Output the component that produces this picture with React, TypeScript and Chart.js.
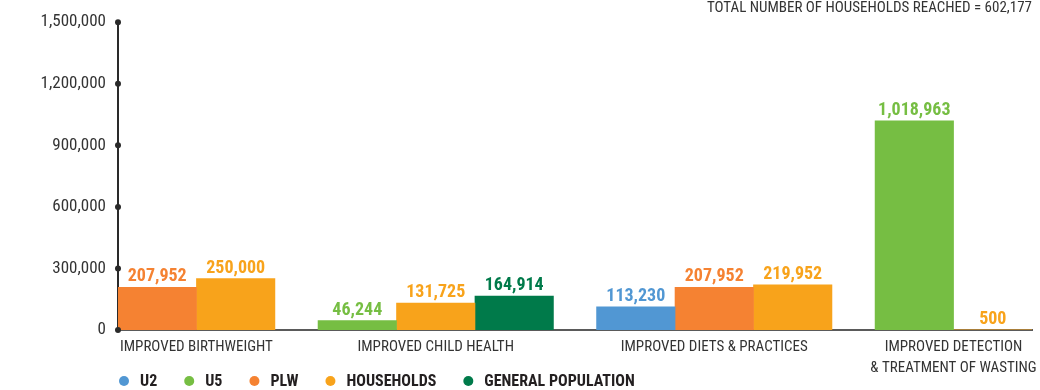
import React, { useEffect, useRef } from 'react';
import { Chart, registerables } from 'chart.js';

Chart.register(...registerables);

// ---- data ----
const categories: string[][] = [
  ['IMPROVED BIRTHWEIGHT'],
  ['IMPROVED CHILD HEALTH'],
  ['IMPROVED DIETS & PRACTICES'],
  ['IMPROVED DETECTION', '& TREATMENT OF WASTING'],
];
const seriesNames = ['U2', 'U5', 'PLW', 'HOUSEHOLDS', 'GENERAL POPULATION'];
const u2 = [null, null, 113230, null];
const u5 = [null, 46244, null, 1018963];
const plw = [207952, null, 207952, null];
const households = [250000, 131725, 219952, 500];
const generalPopulation = [null, 164914, null, null];
const yTicks = [0, 300000, 600000, 900000, 1200000, 1500000];
const totalHouseholds = 602177;

// ---- styles ----
const colors = ['#5197D3', '#76BE43', '#F58232', '#F8A31B', '#007A4A'];
const FONT = "'Roboto Condensed', 'Open Sans Condensed', 'Noto Sans', sans-serif";
const TEXT = '#333333';
const GROUP_GAP = 0.55; // gap between groups, in bar widths

const seriesValues: (number | null)[][] = [u2, u5, plw, households, generalPopulation];

// bars of a group sit side by side along a linear x scale, groups separated by a gap
const groupCenters: number[] = [];
const barX: (number | null)[][] = seriesValues.map(() => []);
let cursor = 0;
categories.forEach((_, ci) => {
  const start = cursor;
  seriesValues.forEach((vals, si) => {
    if (vals[ci] != null) {
      barX[si][ci] = cursor + 0.5;
      cursor += 1;
    } else {
      barX[si][ci] = null;
    }
  });
  groupCenters.push((start + cursor) / 2);
  cursor += GROUP_GAP;
});
const xMax = cursor - GROUP_GAP;

const fmt = (v: number) => v.toLocaleString('en-US');

const datasets = seriesValues.map((vals, si) => ({
  label: seriesNames[si],
  backgroundColor: colors[si],
  borderWidth: 0,
  data: vals
    .map((v, ci) => (v == null ? null : { x: barX[si][ci] as number, y: v }))
    .filter((p) => p !== null) as { x: number; y: number }[],
}));

const tickDots = {
  id: 'tickDots',
  afterDraw(chart: any) {
    const { ctx, chartArea, scales } = chart;
    ctx.save();
    ctx.fillStyle = '#2a2a2a';
    scales.y.ticks.forEach((t: any) => {
      const y = scales.y.getPixelForValue(t.value);
      ctx.beginPath();
      ctx.arc(chartArea.left, y, 3, 0, Math.PI * 2);
      ctx.fill();
    });
    ctx.restore();
  },
};

const valueLabels = {
  id: 'valueLabels',
  afterDatasetsDraw(chart: any) {
    const { ctx } = chart;
    ctx.save();
    ctx.font = `bold 18px ${FONT}`;
    ctx.textAlign = 'center';
    ctx.textBaseline = 'alphabetic';
    chart.data.datasets.forEach((ds: any, di: number) => {
      const meta = chart.getDatasetMeta(di);
      ctx.fillStyle = ds.backgroundColor;
      meta.data.forEach((el: any, i: number) => {
        const v = ds.data[i].y;
        ctx.fillText(fmt(v), el.x, el.y - 6);
      });
    });
    ctx.restore();
  },
};

const bottomLegend = {
  id: 'bottomLegend',
  afterDraw(chart: any) {
    const { ctx, chartArea } = chart;
    const y = chart.height - 9;
    let x = chartArea.left + 6;
    ctx.save();
    ctx.font = `bold 16px ${FONT}`;
    ctx.textBaseline = 'middle';
    ctx.textAlign = 'left';
    chart.data.datasets.forEach((ds: any) => {
      ctx.fillStyle = ds.backgroundColor;
      ctx.beginPath();
      ctx.arc(x, y, 5, 0, Math.PI * 2);
      ctx.fill();
      ctx.fillStyle = '#231F20';
      ctx.fillText(ds.label, x + 16, y + 1);
      x += 16 + ctx.measureText(ds.label).width + 32;
    });
    ctx.restore();
  },
};

export default function App() {
  const ref = useRef<HTMLCanvasElement>(null);
  useEffect(() => {
    document.body.style.margin = '0';
    const chart = new Chart(ref.current as HTMLCanvasElement, {
      type: 'bar',
      data: { datasets: datasets as any },
      plugins: [tickDots, valueLabels, bottomLegend],
      options: {
        animation: false,
        responsive: true,
        maintainAspectRatio: false,
        layout: { padding: { top: 3, right: 8, bottom: 18, left: 0 } },
        datasets: {
          bar: { grouped: false, categoryPercentage: 1, barPercentage: 1 },
        } as any,
        plugins: {
          legend: { display: false },
          tooltip: { enabled: false },
          title: {
            display: true,
            text: `TOTAL NUMBER OF HOUSEHOLDS REACHED = ${fmt(totalHouseholds)}`,
            align: 'end',
            color: TEXT,
            font: { family: FONT, size: 15, weight: 'normal', lineHeight: 1.2 },
            padding: { top: -6, bottom: 5 },
          },
        },
        scales: {
          x: {
            type: 'linear',
            offset: false,
            min: 0,
            max: xMax,
            afterBuildTicks: (scale: any) => {
              scale.ticks = groupCenters.map((v) => ({ value: v }));
            },
            afterFit: (scale: any) => {
              scale.height = 42;
              scale.paddingLeft = 0;
              scale.paddingRight = 0;
            },
            grid: { display: false, drawTicks: false, offset: false },
            border: { display: true, color: '#5a5a5a', width: 2 },
            ticks: {
              autoSkip: false,
              maxRotation: 0,
              padding: 7,
              color: TEXT,
              font: { family: FONT, size: 15, lineHeight: 1.4 },
              callback: (_v: any, i: number) => categories[i],
            },
          },
          y: {
            type: 'linear',
            min: 0,
            max: yTicks[yTicks.length - 1],
            afterBuildTicks: (scale: any) => {
              scale.ticks = yTicks.map((v) => ({ value: v }));
            },
            afterFit: (scale: any) => {
              scale.width = 118;
            },
            grid: { display: false, drawTicks: false },
            border: { display: true, color: '#2a2a2a', width: 2 },
            ticks: {
              padding: 12,
              color: TEXT,
              font: { family: FONT, size: 17 },
              callback: (v: any) => fmt(Number(v)),
            },
          },
        },
      } as any,
    });
    return () => chart.destroy();
  }, []);
  return (
    <div style={{ width: 1040, height: 390, position: 'relative' }}>
      <canvas ref={ref} />
    </div>
  );
}
